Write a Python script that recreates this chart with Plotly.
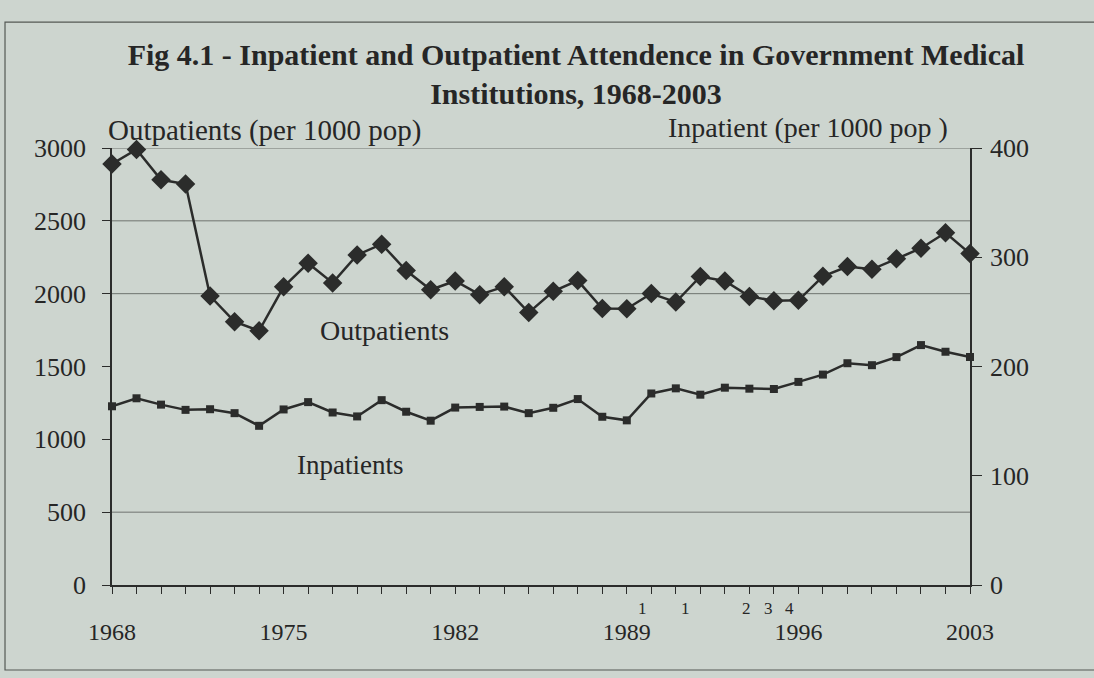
import plotly.graph_objects as go

# ---- data ----
years = list(range(1968, 2004))
outpatients = [
    2890, 2990, 2782, 2753, 1984, 1808, 1745, 2047, 2209, 2074,
    2266, 2340, 2159, 2027, 2087, 1993, 2048, 1870, 2016, 2090,
    1898, 1896, 2001, 1942, 2118, 2087, 1981, 1952, 1954, 2119,
    2186, 2167, 2239, 2312, 2418, 2275,
]
inpatients = [
    163.6, 170.9, 165.1, 160.3, 160.9, 157.3, 145.7, 160.7, 167.4, 157.9,
    154.3, 169.2, 158.6, 150.4, 162.4, 163.0, 163.3, 157.3, 162.2, 170.2,
    154.0, 150.7, 175.3, 180.0, 174.2, 180.6, 179.7, 179.4, 185.9, 192.6,
    203.0, 201.2, 208.6, 219.6, 213.5, 208.7,
]
label_years = [1968, 1975, 1982, 1989, 1996, 2003]
left_ticks = [0, 500, 1000, 1500, 2000, 2500, 3000]
right_ticks = [0, 100, 200, 300, 400]
grid_values = [500, 2000, 2500, 3000]  # only these gridlines show in the scan
# stray footnote marks printed just under the axis
note_marks = ["1", "1", "2", "3", "4"]
note_x = [1989.66, 1991.38, 1993.87, 1994.77, 1995.62]

BG = "#cdd5cf"
INK = "#2b2c2b"
TXT = "#262626"
SERIF = "Liberation Serif, Times New Roman, serif"

fig = go.Figure()
fig.add_trace(go.Scatter(
    x=years, y=outpatients, mode="lines+markers", name="Outpatients",
    line=dict(color=INK, width=2.5),
    marker=dict(symbol="diamond", size=15, color=INK),
    cliponaxis=False,
))
fig.add_trace(go.Scatter(
    x=years, y=inpatients, mode="lines+markers", name="Inpatients", yaxis="y2",
    line=dict(color=INK, width=2.5),
    marker=dict(symbol="square", size=8, color=INK),
    cliponaxis=False,
))

for v in grid_values:
    fig.add_hline(y=v, line=dict(color="#6f736f", width=1), layer="below")

fig.update_layout(
    width=1094, height=678,
    paper_bgcolor=BG, plot_bgcolor=BG,
    margin=dict(l=112, r=124, t=148, b=93),
    showlegend=False,
    font=dict(family=SERIF, color=TXT, size=26),
    title=dict(
        text="<b>Fig 4.1 - Inpatient and Outpatient Attendence in Government Medical<br>Institutions, 1968-2003</b>",
        x=0.5265, xanchor="center", y=0.904, yanchor="middle",
        font=dict(family=SERIF, size=30, color=TXT),
    ),
    xaxis=dict(
        range=[1968, 2003], tickvals=label_years, ticktext=[str(y) for y in label_years],
        ticks="outside", ticklen=7, tickcolor=INK, showgrid=False, zeroline=False,
        showline=True, linecolor=INK, linewidth=1.5,
        minor=dict(dtick=1, tick0=1968, ticks="outside", ticklen=7, tickcolor=INK, showgrid=False),
        tickfont=dict(size=24), ticklabelstandoff=17,
    ),
    yaxis=dict(
        range=[0, 3000], tickvals=left_ticks, ticks="outside", ticklen=8, tickcolor=INK,
        showgrid=False, zeroline=False, showline=True, linecolor=INK, linewidth=1.5,
        ticklabelstandoff=11,
    ),
    yaxis2=dict(
        range=[0, 400], tickvals=right_ticks, overlaying="y", side="right",
        ticks="outside", ticklen=10, tickcolor=INK, showgrid=False, zeroline=False,
        showline=True, linecolor=INK, linewidth=1.5, ticklabelstandoff=3,
    ),
)

# outer frame of the figure box (top, left and bottom edges only)
fig.add_shape(type="path", xref="paper", yref="paper",
              path="M 1.3,1.288 L -0.1247,1.288 L -0.1247,-0.1945 L 1.3,-0.1945",
              line=dict(color="#555955", width=1.2), layer="below")

def note(text, size, **kw):
    fig.add_annotation(text=text, showarrow=False, xanchor="center", yanchor="middle",
                       font=dict(family=SERIF, size=size, color=TXT), **kw)

note("Outpatients (per 1000 pop)", 29, xref="paper", yref="paper", x=0.178, y=1.039)
note("Inpatient (per 1000 pop )", 28, xref="paper", yref="paper", x=0.811, y=1.048)
note("Outpatients", 28, x=1979.1, y=1750)
note("Inpatients", 27, x=1977.7, y=824)
for txt, xv in zip(note_marks, note_x):
    note(txt, 17, x=xv, xref="x", yref="paper", y=-0.053)

# drop the page's default body margin so the figure fills the window exactly
fig.write_html("out.html", config={"displayModeBar": False},
               post_script="document.body.style.margin='0';document.body.style.overflow='hidden';")
